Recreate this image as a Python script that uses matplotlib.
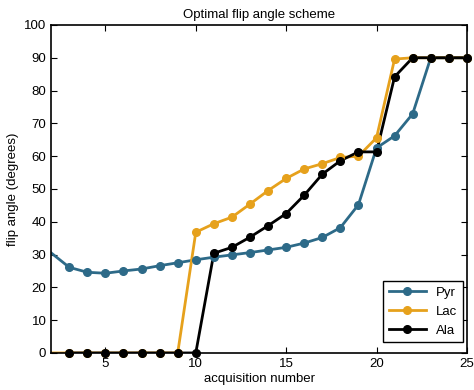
import numpy as np
import matplotlib.pyplot as plt
from matplotlib.lines import Line2D

plt.rcParams['font.family'] = ['Liberation Sans', 'DejaVu Sans']

# acquisition numbers
x_pyr = np.arange(1, 26)
x_lac = np.arange(1, 26)
x_ala = np.arange(3, 26)

# flip angles (degrees)
pyr = [34.8, 30.5, 26.1, 24.6, 24.3, 25.0, 25.6, 26.6, 27.5, 28.4, 29.2, 29.9, 30.6,
       31.4, 32.2, 33.5, 35.2, 38.2, 45.2, 62.5, 66.2, 72.9, 90, 90, 90]
lac = [0, 0, 0, 0, 0, 0, 0, 0, 0, 36.8, 39.4, 41.4, 45.4, 49.5, 53.2, 56.1, 57.7,
       59.6, 60.0, 65.6, 89.6, 90, 90, 90, 90]
ala = [0, 0, 0, 0, 0, 0, 0, 0, 30.4, 32.2, 35.3, 38.8, 42.5, 48.1, 54.5, 58.6,
       61.3, 61.3, 84.2, 90, 90, 90, 90]

names = ['Pyr', 'Lac', 'Ala']
colors = ['#2d6a88', '#e6a11c', 'black']
xmin, xmax = 2, 25

fig = plt.figure(figsize=(4.74, 3.90), dpi=100)
ax = fig.add_axes([0.108, 0.095, 0.877, 0.841])

handles = []
for xs, ys, c, n in zip([x_pyr, x_lac, x_ala], [pyr, lac, ala], colors, names):
    xs = np.asarray(xs)
    ys = np.asarray(ys)
    # line clipped at the axes, markers only for points inside the x range (not clipped)
    ax.plot(xs, ys, '-', color=c, lw=2)
    m = xs > xmin
    ax.plot(xs[m], ys[m], 'o', color=c, ms=5.5, clip_on=False, zorder=3)
    handles.append(Line2D([], [], color=c, lw=2, marker='o', ms=5.5, label=n))

ax.set_xlim(xmin, xmax)
ax.set_ylim(0, 100)
ax.set_xticks([5, 10, 15, 20, 25])
ax.set_yticks(np.arange(0, 101, 10))
ax.tick_params(direction='in', top=True, right=True, labelsize=9.5, length=4)
for s in ax.spines.values():
    s.set_linewidth(1.2)

ax.set_title('Optimal flip angle scheme', fontsize=9.5, pad=5)
ax.set_xlabel('acquisition number', fontsize=9.5, labelpad=2)
ax.set_ylabel('flip angle (degrees)', fontsize=9.5)

leg = ax.legend(handles=handles, loc='lower right', fontsize=9.5, fancybox=False,
                framealpha=1, edgecolor='black', handlelength=2.8,
                borderaxespad=0, bbox_to_anchor=(0.99, 0.034))
leg.get_frame().set_linewidth(1.0)

fig.savefig('out.png', dpi=100)
